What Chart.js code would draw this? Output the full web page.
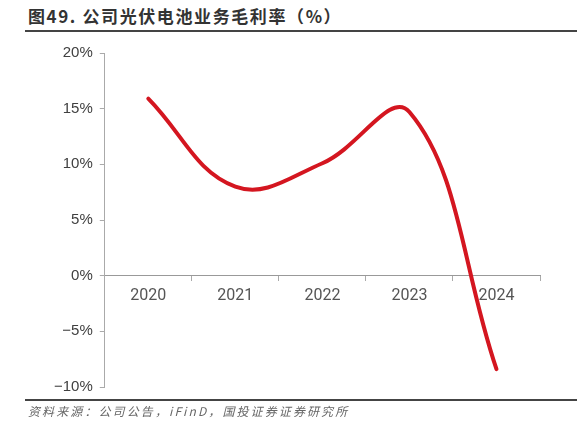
<!DOCTYPE html>
<html>
<head>
<meta charset="utf-8">
<script src="https://cdn.jsdelivr.net/npm/chart.js@4/dist/chart.umd.min.js"></script>
<style>
    body { margin: 0; width: 577px; height: 424px; background: #fff; position: relative; overflow: hidden; }
    #title { position: absolute; left: 28px; top: 3px; font: bold 17px "Noto Sans CJK SC", sans-serif; color: #333; letter-spacing: 1.6px; }
    #topline { position: absolute; left: 25px; right: 0; top: 30px; height: 2px; background: #444; }
    #botline { position: absolute; left: 25px; right: 0; top: 399px; height: 2px; background: #444; }
    #source { position: absolute; left: 28px; top: 402px; font: italic 12px "Noto Sans CJK SC", sans-serif; color: #666; letter-spacing: 2.1px; }
    #box { position: absolute; left: 47px; top: 37px; width: 503px; height: 366px; }
</style>
</head>
<body>
<div id="title">图49. 公司光伏电池业务毛利率（%）</div>
<div id="topline"></div>
<div id="box"><canvas id="myChart"></canvas></div>
<div id="botline"></div>
<div id="source">资料来源：公司公告，iFinD，国投证券证券研究所</div>
<script>
var years = ['2020', '2021', '2022', '2023', '2024']
var margin = [15.9, 8.0, 10.1, 14.7, -8.4]

var ctx = document.getElementById('myChart').getContext('2d');
var myChart = new Chart(ctx, {
    type: 'line',
    data: {
        labels: years,
        datasets: [{
            label: '毛利率',
            data: margin,
            borderColor: 'rgb(212, 22, 32)',
            borderWidth: 4,
            pointRadius: 0,
            tension: 0.4,
            borderCapStyle: 'round',
            fill: false
        }]
    },
    options: {
        responsive: true,
        maintainAspectRatio: false,
        animation: false,
        layout: { padding: { right: 10, top: 0, bottom: 0 } },
        plugins: {
            legend: { display: false },
            tooltip: { enabled: false }
        },
        scales: {
            x: {
                position: { y: 0 },
                offset: true,
                grid: {
                    offset: true,
                    drawOnChartArea: false,
                    tickLength: 5,
                    color: '#aaa'
                },
                border: { color: '#999', width: 1 },
                ticks: {
                    color: '#555',
                    font: { family: 'Roboto', size: 16 },
                    padding: 6
                }
            },
            y: {
                min: -10,
                max: 20,
                ticks: {
                    stepSize: 5,
                    color: '#404040',
                    font: { family: 'Liberation Sans', size: 15 },
                    padding: 7,
                    callback: function(v) {
                        return v < 0 ? '\u2212' + Math.abs(v) + '%' : v + '%';
                    }
                },
                grid: {
                    drawOnChartArea: false,
                    tickLength: 5,
                    color: '#aaa'
                },
                border: { color: '#aaa', width: 1 }
            }
        }
    }
})
</script>
</body>
</html>
